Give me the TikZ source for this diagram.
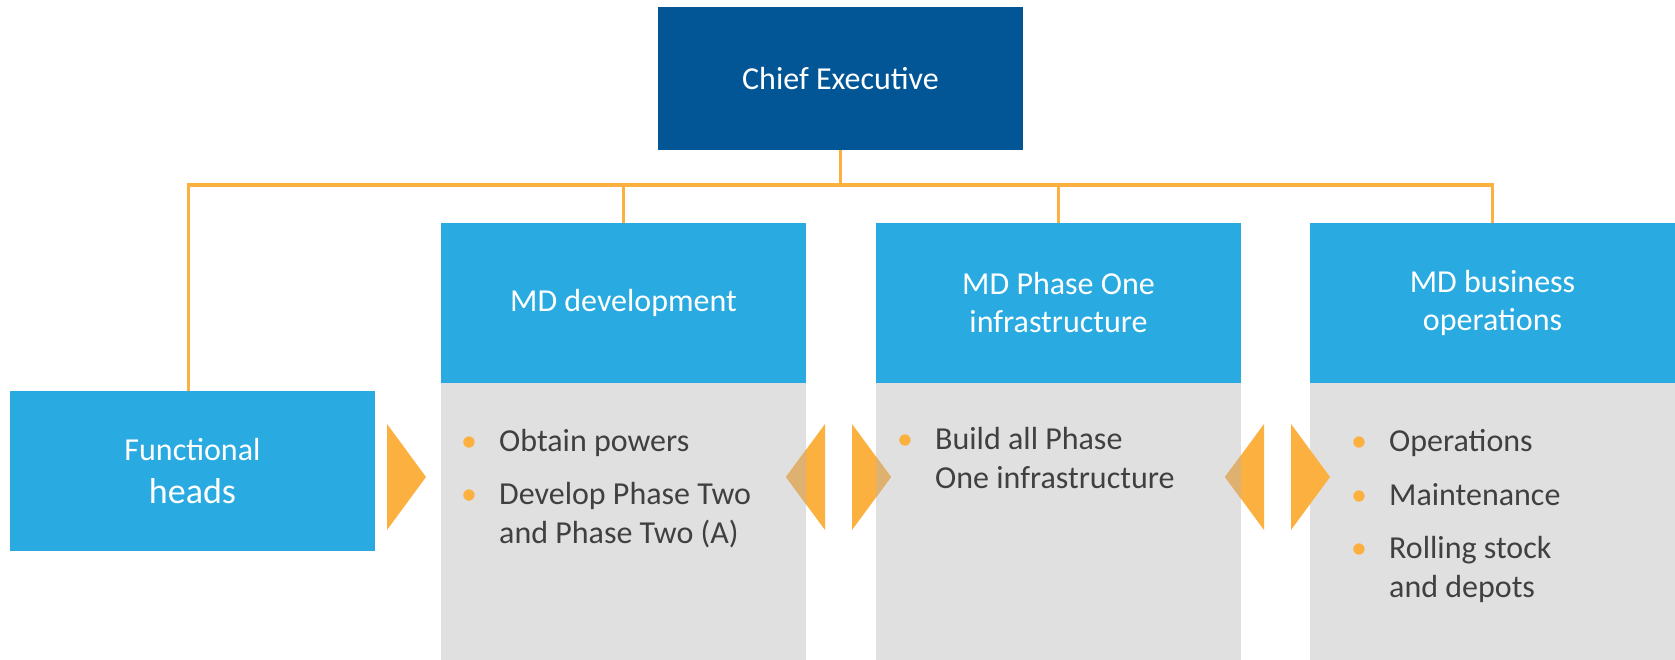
\documentclass[tikz,border=0pt]{standalone}
\usepackage{fontspec}
\setmainfont{Carlito}
\usepackage{tikz}
\usetikzlibrary{positioning}
\definecolor{ceblue}{RGB}{2,86,150}
\definecolor{mdblue}{RGB}{41,170,225}
\definecolor{bodygrey}{RGB}{224,224,224}
\definecolor{linkorange}{RGB}{251,176,64}
\definecolor{overlaptan}{RGB}{222,177,113}
\definecolor{bodytext}{RGB}{64,64,64}
\tikzset{
    box/.style={minimum width=365pt, inner sep=0pt, outer sep=0pt, align=center,
        text=white, font=\fontsize{32}{38}\selectfont},
    head/.style={box, fill=mdblue, minimum height=160pt},
    body/.style={fill=bodygrey, minimum width=365pt, minimum height=277pt, inner sep=0pt, outer sep=0pt},
    items/.style={anchor=base west, align=left, inner sep=0pt, text=bodytext,
        font=\fontsize{32}{38.5}\selectfont},
    link/.style={draw=linkorange, line width=3.5pt},
    chevron/.style={fill=linkorange},
}
\newcommand{\bul}{\makebox[38pt][l]{\textcolor{linkorange}{\textbullet}}}
\newcommand{\ind}{\hspace*{38pt}}

\begin{document}
\begin{tikzpicture}[x=1pt, y=-1pt]
    \path[use as bounding box, fill=white] (0,0) rectangle (1675,660);
    \node[box, fill=ceblue, minimum height=143pt] (ceo) at (840.5,78.5) {Chief Executive};
    \node[head] (fh) at (192.5,471) {Functional\\[5pt]{\fontsize{36}{43}\selectfont heads}};
    \node[head] (dev) at (623.5,303) {MD development};
    \node[head] (inf) at (1058.5,303) {MD Phase One\\infrastructure};
    \node[head] (ops) at (1492.5,303) {MD business\\operations};
    \node[body, below=0pt of dev] (devbody) {};
    \node[body, below=0pt of inf] (infbody) {};
    \node[body, below=0pt of ops] (opsbody) {};

    \coordinate (hub) at (840.5,185);
    \draw[link] (ceo.south) -- (hub);
    \draw[link] ([xshift=-4pt]fh.north) |- (hub);
    \draw[link] (dev.north) |- (hub);
    \draw[link] (inf.north) |- (hub);
    \draw[link] (ops.north) |- (hub);

    \foreach \a/\b in {387/426, 825/786, 852/891, 1264/1225, 1291/1330}
        \fill[chevron] (\a,424) -- (\b,477) -- (\a,530) -- cycle;
    \begin{scope}
        \clip (devbody.north west) rectangle (devbody.south east);
        \fill[overlaptan] (825,424) -- (786,477) -- (825,530) -- cycle;
    \end{scope}
    \begin{scope}
        \clip (infbody.north west) rectangle (infbody.south east);
        \fill[overlaptan] (852,424) -- (891,477) -- (852,530) -- cycle;
        \fill[overlaptan] (1264,424) -- (1225,477) -- (1264,530) -- cycle;
    \end{scope}

    \node[items] (devlist) at (461,543) {\bul Obtain powers\\[15pt]
        \bul Develop Phase Two\\ \ind and Phase Two (A)};
    \node[items] (inflist) at (897,488) {\bul Build all Phase\\ \ind One infrastructure};
    \node[items] (opslist) at (1351,597) {\bul Operations\\[15pt]
        \bul Maintenance\\[15pt]
        \bul Rolling stock\\ \ind and depots};
\end{tikzpicture}
\end{document}
